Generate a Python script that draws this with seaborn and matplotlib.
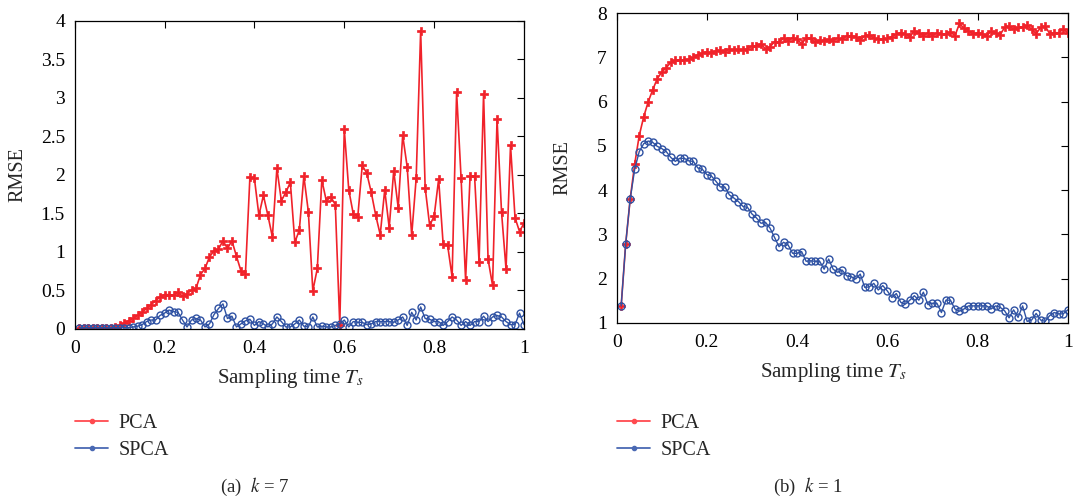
import numpy as np
import pandas as pd
import seaborn as sns
import matplotlib
matplotlib.use("Agg")
import matplotlib.pyplot as plt
from matplotlib.lines import Line2D

# sampling times 0.01 .. 1.00
ts = [round(0.01 * i, 2) for i in range(1, 101)]

# panel (a) k = 7
pca_k7 = [0.01, 0.01, 0.01, 0.01, 0.01, 0.01, 0.01, 0.01, 0.02, 0.04,
          0.07, 0.10, 0.13, 0.17, 0.21, 0.26, 0.31, 0.36, 0.41, 0.44,
          0.44, 0.43, 0.47, 0.42, 0.45, 0.50, 0.52, 0.70, 0.78, 0.93,
          1.01, 1.03, 1.14, 1.04, 1.14, 0.94, 0.75, 0.71, 1.97, 1.95,
          1.47, 1.73, 1.47, 1.19, 2.08, 1.66, 1.77, 1.90, 1.12, 1.28,
          1.98, 1.52, 0.49, 0.78, 1.93, 1.66, 1.71, 1.61, 0.05, 2.59,
          1.80, 1.49, 1.45, 2.12, 2.02, 1.77, 1.47, 1.22, 1.80, 1.31,
          2.05, 1.57, 2.51, 2.10, 1.21, 1.95, 3.87, 1.83, 1.34, 1.46,
          1.94, 1.10, 1.08, 0.67, 3.07, 1.95, 0.63, 1.98, 1.98, 0.86,
          3.05, 0.90, 0.56, 2.72, 1.51, 0.77, 2.38, 1.44, 1.26, 1.37]
spca_k7 = [0.01, 0.01, 0.01, 0.01, 0.01, 0.01, 0.01, 0.01, 0.01, 0.01,
           0.01, 0.01, 0.02, 0.03, 0.05, 0.09, 0.11, 0.11, 0.17, 0.20,
           0.24, 0.22, 0.21, 0.11, 0.02, 0.11, 0.13, 0.11, 0.02, 0.06,
           0.18, 0.26, 0.32, 0.13, 0.16, 0.02, 0.06, 0.10, 0.12, 0.04,
           0.09, 0.06, 0.02, 0.06, 0.15, 0.09, 0.02, 0.02, 0.06, 0.11,
           0.03, 0.02, 0.15, 0.02, 0.03, 0.02, 0.02, 0.04, 0.06, 0.11,
           0.02, 0.09, 0.08, 0.08, 0.05, 0.06, 0.09, 0.09, 0.09, 0.09,
           0.08, 0.11, 0.15, 0.04, 0.21, 0.11, 0.28, 0.13, 0.12, 0.09,
           0.09, 0.04, 0.09, 0.15, 0.11, 0.04, 0.09, 0.04, 0.09, 0.09,
           0.16, 0.09, 0.15, 0.17, 0.15, 0.09, 0.05, 0.05, 0.20, 0.05]

# panel (b) k = 1
pca_k1 = [1.38, 2.78, 3.80, 4.59, 5.23, 5.66, 6.00, 6.27, 6.52, 6.67,
          6.77, 6.89, 6.94, 6.94, 6.94, 6.96, 7.00, 7.06, 7.10, 7.13,
          7.10, 7.15, 7.16, 7.13, 7.19, 7.16, 7.19, 7.16, 7.20, 7.26,
          7.26, 7.31, 7.19, 7.24, 7.36, 7.34, 7.44, 7.38, 7.45, 7.41,
          7.31, 7.44, 7.44, 7.34, 7.39, 7.38, 7.41, 7.38, 7.44, 7.41,
          7.49, 7.49, 7.47, 7.39, 7.49, 7.51, 7.44, 7.41, 7.41, 7.43,
          7.47, 7.53, 7.56, 7.53, 7.47, 7.60, 7.56, 7.49, 7.56, 7.49,
          7.56, 7.53, 7.53, 7.58, 7.49, 7.77, 7.66, 7.60, 7.53, 7.56,
          7.54, 7.49, 7.59, 7.56, 7.51, 7.68, 7.71, 7.64, 7.68, 7.68,
          7.73, 7.64, 7.54, 7.68, 7.71, 7.54, 7.56, 7.56, 7.64, 7.56]
spca_k1 = [1.38, 2.78, 3.80, 4.47, 4.87, 5.05, 5.11, 5.08, 4.99, 4.94,
           4.87, 4.74, 4.65, 4.72, 4.72, 4.66, 4.65, 4.50, 4.47, 4.35,
           4.32, 4.20, 4.07, 4.07, 3.89, 3.82, 3.74, 3.63, 3.61, 3.46,
           3.37, 3.25, 3.27, 3.14, 2.93, 2.72, 2.82, 2.76, 2.57, 2.57,
           2.61, 2.39, 2.40, 2.39, 2.39, 2.21, 2.44, 2.21, 2.14, 2.19,
           2.06, 2.04, 1.99, 2.10, 1.80, 1.81, 1.89, 1.74, 1.84, 1.72,
           1.57, 1.66, 1.46, 1.42, 1.51, 1.61, 1.51, 1.69, 1.41, 1.44,
           1.44, 1.23, 1.51, 1.51, 1.31, 1.26, 1.31, 1.38, 1.38, 1.38,
           1.38, 1.38, 1.31, 1.38, 1.35, 1.27, 1.11, 1.29, 1.12, 1.38,
           1.03, 1.06, 1.21, 1.06, 1.03, 1.16, 1.23, 1.20, 1.20, 1.29]

xticks = [0, 0.2, 0.4, 0.6, 0.8, 1]
xticklabels = ["0", "0.2", "0.4", "0.6", "0.8", "1"]
yticks_k7 = [0, 0.5, 1, 1.5, 2, 2.5, 3, 3.5, 4]
yticks_k1 = [1, 2, 3, 4, 5, 6, 7, 8]

RED = "#f0222a"
BLUE = "#2f52a3"

sns.set_style("white")
plt.rcParams['font.family'] = ['Liberation Serif', 'DejaVu Serif']
plt.rcParams['mathtext.fontset'] = 'stix'


def panel(ax, pca, spca, yticks, ylim, ylab_x):
    df = pd.DataFrame({"t": ts * 2, "rmse": pca + spca,
                       "method": ["PCA"] * len(ts) + ["SPCA"] * len(ts)})
    sns.lineplot(data=df[df.method == "PCA"], x="t", y="rmse", color=RED,
                 lw=1.2, marker="P", markersize=6, markeredgewidth=0.5,
                 markeredgecolor=RED, ax=ax, legend=False)
    sns.lineplot(data=df[df.method == "SPCA"], x="t", y="rmse", color=BLUE,
                 lw=1.0, marker="o", markersize=5, markerfacecolor="none",
                 markeredgecolor=BLUE, markeredgewidth=1.0, ax=ax, legend=False)
    ax.set_xlim(0, 1)
    ax.set_ylim(*ylim)
    ax.set_xticks(xticks)
    ax.set_xticklabels(xticklabels)
    ax.set_yticks(yticks)
    ax.set_yticklabels(["%g" % v for v in yticks])
    ax.tick_params(direction="in", length=5, width=0.8, top=True, right=True,
                   labelsize=14, colors="black")
    ax.tick_params(axis="x", pad=8)
    ax.tick_params(axis="y", pad=7)
    for s in ax.spines.values():
        s.set_color("black")
        s.set_linewidth(0.9)
    ax.set_xlabel(r"Sampling time $T_s$", fontsize=15)
    ax.set_ylabel("RMSE", fontsize=14.5)
    ax.xaxis.set_label_coords(0.48, -0.125)
    ax.yaxis.set_label_coords(ylab_x, 0.5)


fig = plt.figure(figsize=(10.76, 5.0), dpi=100)
ax1 = fig.add_axes([0.0694, 0.343, 0.4176, 0.6156])
ax2 = fig.add_axes([0.5731, 0.3546, 0.4192, 0.6188])

panel(ax1, pca_k7, spca_k7, yticks_k7, (0, 4), -0.106)
panel(ax2, pca_k1, spca_k1, yticks_k1, (1, 8), -0.099)

handles = [Line2D([], [], color="#ff4a4f", lw=1.3, marker=".", markersize=6),
           Line2D([], [], color="#4a69b3", lw=1.3, marker=".", markersize=6)]
for x0 in (0.0697, 0.5734):
    fig.legend(handles, ["PCA", "SPCA"], loc="upper left",
               bbox_to_anchor=(x0, 0.172), frameon=False, fontsize=14.5,
               borderpad=0, borderaxespad=0, handlelength=1.65,
               handletextpad=0.5, labelspacing=0.38)

fig.text(0.237, 0.026, r"(a)  $k$ = 7", fontsize=13.5, ha="center", va="center")
fig.text(0.751, 0.026, r"(b)  $k$ = 1", fontsize=13.5, ha="center", va="center")

fig.savefig("out.png", dpi=100)
